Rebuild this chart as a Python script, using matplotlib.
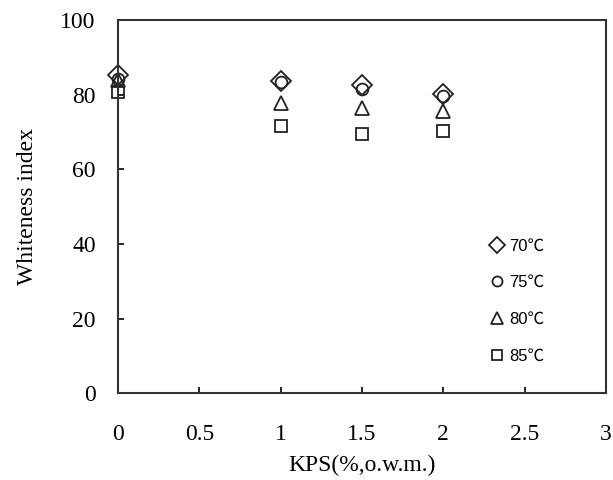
import matplotlib
matplotlib.use('Agg')
import matplotlib.pyplot as plt

# KPS concentration (%, o.w.m.)
kps = [0, 1, 1.5, 2]

# whiteness index at each bleaching temperature
wi_70 = [85.3, 83.6, 82.6, 80.2]
wi_75 = [84.2, 83.4, 81.5, 79.6]
wi_80 = [83.9, 77.7, 76.4, 75.6]
wi_85 = [80.7, 71.6, 69.4, 70.2]

labels = ['70℃', '75℃', '80℃', '85℃']
markers = ['D', 'o', '^', 's']
sizes = [10, 8.5, 10, 8]

x_ticks = [0, 0.5, 1, 1.5, 2, 2.5, 3]
y_ticks = [0, 20, 40, 60, 80, 100]

serif = ['Liberation Serif', 'DejaVu Serif']

fig = plt.figure(figsize=(6.13, 4.8), dpi=100)
ax = fig.add_axes([0.1925, 0.181, 0.796, 0.777])

for ys, lab, m, ms in zip([wi_70, wi_75, wi_80, wi_85], labels, markers, sizes):
    ax.plot(kps, ys, linestyle='none', marker=m, markersize=ms,
            markerfacecolor='none', markeredgecolor='#222222',
            markeredgewidth=1.3, label=lab, clip_on=False)

ax.set_xlim(0, 3)
ax.set_ylim(0, 100)
ax.set_xticks(x_ticks)
ax.set_xticklabels(['0', '0.5', '1', '1.5', '2', '2.5', '3'])
ax.set_yticks(y_ticks)
ax.tick_params(direction='in', length=4, width=1.2, labelsize=17)
ax.tick_params(axis='x', pad=22)
ax.tick_params(axis='y', pad=16)
for lbl in ax.get_xticklabels() + ax.get_yticklabels():
    lbl.set_family(serif)
for s in ax.spines.values():
    s.set_linewidth(1.5)
    s.set_color('#333333')

ax.set_xlabel('KPS(%,o.w.m.)', fontsize=17, family=serif, labelpad=7)
ax.set_ylabel('Whiteness index', fontsize=17, family=serif, labelpad=16)

leg = ax.legend(loc='upper left', bbox_to_anchor=(0.76, 0.415), frameon=False,
                labelspacing=1.3, handletextpad=0.2, handlelength=1.0,
                borderpad=0, borderaxespad=0, markerscale=0.85,
                prop={'family': ['Liberation Sans', 'Noto Sans CJK SC'], 'size': 12})

fig.savefig('out.png', dpi=100)
